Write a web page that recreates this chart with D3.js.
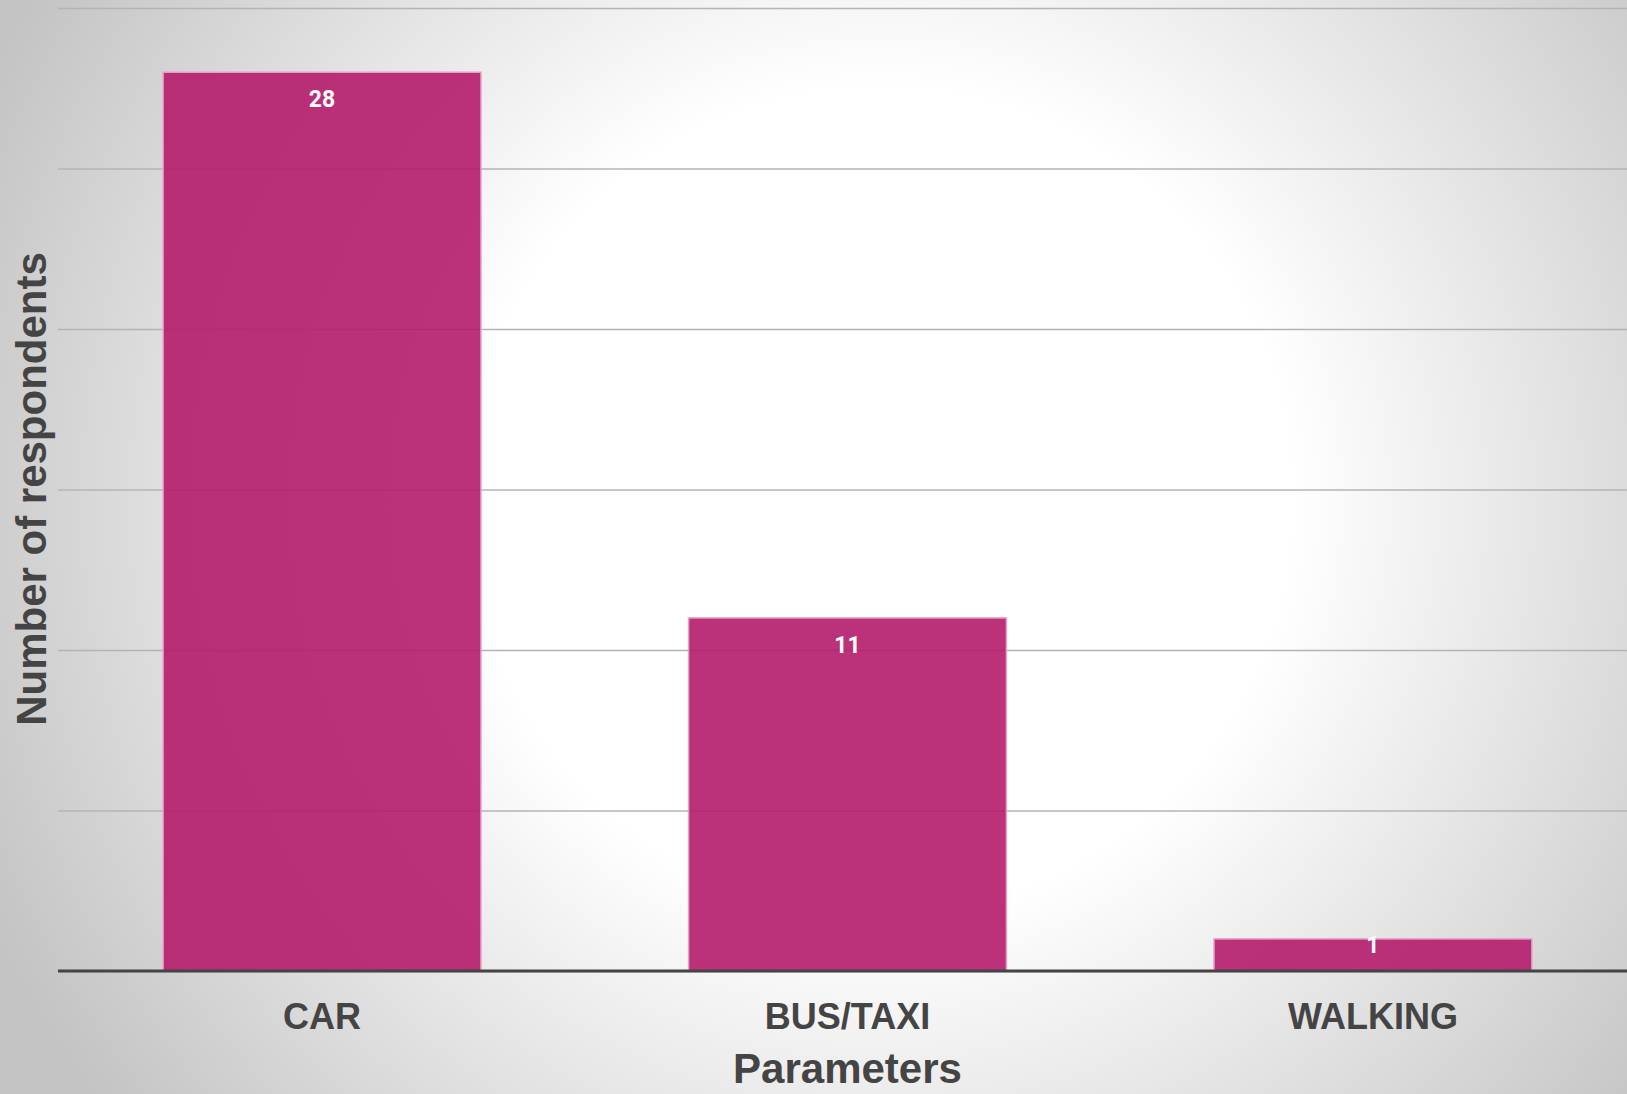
<!DOCTYPE html>
<html>
<head>
<meta charset="utf-8">
<script src="https://cdn.jsdelivr.net/npm/d3@7"></script>
<style>
  html, body { margin: 0; padding: 0; overflow: hidden; }
  svg { display: block; }
</style>
</head>
<body>
<div class="datavis"><svg></svg></div>
<script>
// data
const categories = ["CAR", "BUS/TAXI", "WALKING"]
const respondents = [28, 11, 1]
const yTicks = [0, 5, 10, 15, 20, 25, 30]

const width = 1627
const height = 1094

var margin = {
    top: 8,
    right: -10,
    bottom: 123,
    left: 58
}

const svg = d3.select(".datavis > svg")
    .attr("width", width)
    .attr("height", height)
    .attr("viewBox", [0, 0, width, height])

// background: light centre fading to grey corners
const defs = svg.append("defs")
const grad = defs.append("radialGradient")
    .attr("id", "bg")
    .attr("gradientUnits", "userSpaceOnUse")
    .attr("cx", 880).attr("cy", 500).attr("r", 980)
grad.append("stop").attr("offset", 0).attr("stop-color", "#ffffff")
grad.append("stop").attr("offset", 0.42).attr("stop-color", "#ffffff")
grad.append("stop").attr("offset", 1).attr("stop-color", "#c4c4c4")

svg.append("rect")
    .attr("width", width).attr("height", height)
    .attr("fill", "url(#bg)")

const x = d3.scaleBand()
    .domain(categories)
    .range([margin.left, width - margin.right])
    .paddingInner(0.395)
    .paddingOuter(0.2)

const y = d3.scaleLinear()
    .domain([0, 30])
    .range([height - margin.bottom, margin.top])

// gridlines
const yGrid = g => g
    .attr("transform", `translate(${margin.left},0)`)
    .call(d3.axisLeft(y).tickValues(yTicks).tickSize(-(width - margin.left - margin.right)).tickFormat(""))
    .call(g => g.select(".domain").remove())
    .call(g => g.selectAll(".tick line")
        .attr("stroke", "#b4b4b4")
        .attr("stroke-width", 1.5))

svg.append("g").attr("class", "grid").call(yGrid)

// bars
svg.append("g").attr("class", "bars")
    .selectAll("rect")
    .data(respondents)
    .join("rect")
    .attr("x", (d, i) => x(categories[i]))
    .attr("y", d => y(d))
    .attr("width", x.bandwidth())
    .attr("height", d => y(0) - y(d))
    .attr("fill", "rgb(180,28,108)")
    .attr("fill-opacity", 0.9)
    .attr("stroke", "#e6a3c6")
    .attr("stroke-width", 1.5)

// value labels
svg.append("g").attr("class", "labels")
    .selectAll("text")
    .data(respondents)
    .join("text")
    .attr("x", (d, i) => x(categories[i]) + x.bandwidth() / 2)
    .attr("y", d => Math.min(y(d) + 27, y(0) - 26))
    .attr("dy", "0.36em")
    .attr("text-anchor", "middle")
    .attr("fill", "#ffffff")
    .attr("font-family", "Roboto, sans-serif")
    .attr("font-weight", 700)
    .attr("font-size", 23)
    .text(d => d)

// x axis
const xAxis = g => g
    .attr("transform", `translate(0,${height - margin.bottom})`)
    .call(d3.axisBottom(x).tickSize(0).tickPadding(32))
    .call(g => g.select(".domain")
        .attr("d", `M${margin.left},0H${width}`)
        .attr("stroke", "#444444")
        .attr("stroke-width", 3))
    .call(g => g.selectAll(".tick text")
        .attr("fill", "#444444")
        .attr("font-family", "'Liberation Sans', Arial, sans-serif")
        .attr("font-weight", "bold")
        .attr("font-size", 36))

svg.append("g").attr("class", "xaxis").call(xAxis)

// axis titles
svg.append("text")
    .attr("x", x("BUS/TAXI") + x.bandwidth() / 2)
    .attr("y", 1083)
    .attr("text-anchor", "middle")
    .attr("fill", "#444444")
    .attr("font-family", "'Liberation Sans', Arial, sans-serif")
    .attr("font-weight", "bold")
    .attr("font-size", 42)
    .text("Parameters")

svg.append("text")
    .attr("transform", `translate(46,${489}) rotate(-90)`)
    .attr("text-anchor", "middle")
    .attr("fill", "#444444")
    .attr("font-family", "'Liberation Sans', Arial, sans-serif")
    .attr("font-weight", "bold")
    .attr("font-size", 42)
    .text("Number of respondents")
</script>
</body>
</html>
